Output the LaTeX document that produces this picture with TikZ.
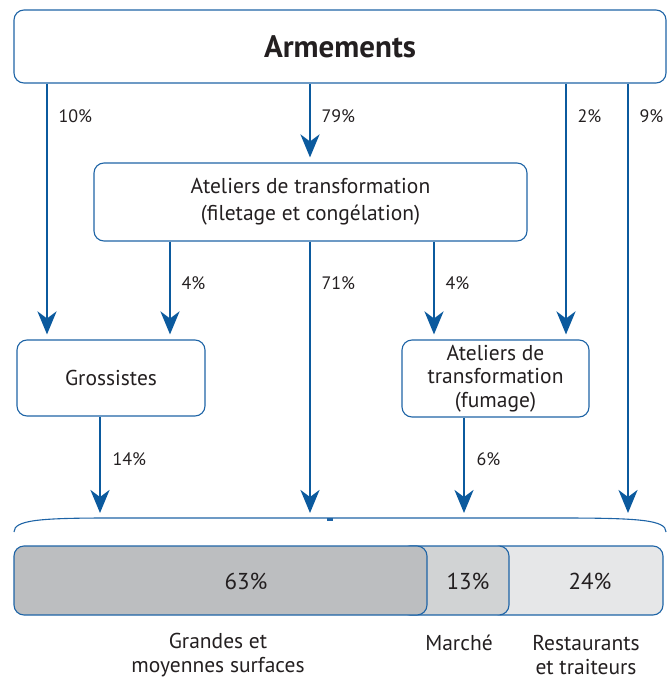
\documentclass[tikz,border=0pt]{standalone}
\usepackage{fontspec}
\setmainfont{PT Sans}
\usepackage{xcolor}
\usetikzlibrary{arrows.meta}

\definecolor{flowblue}{HTML}{0B5A9E}
\definecolor{lineblue}{HTML}{1E64A6}
\definecolor{txt}{HTML}{231F20}
\definecolor{grayA}{HTML}{BCBEC0}
\definecolor{grayB}{HTML}{D1D3D4}
\definecolor{grayC}{HTML}{E6E7E8}

\begin{document}
\begin{tikzpicture}[x=1pt, y=-1pt,
    box/.style={draw=lineblue, line width=1.1pt, rounded corners=10pt, text=txt,
        align=center, inner sep=0pt, font=\fontsize{21.5}{27}\selectfont},
    flow/.style={draw=flowblue, line width=2.6pt, shorten >=5pt,
        -{Stealth[length=23pt, width=19pt, inset=7pt]}},
    pct/.style={anchor=west, text=txt, font=\fontsize{18}{21}\selectfont},
    segbox/.style={draw=lineblue, line width=1.1pt, rounded corners=10pt},
    seglabel/.style={text=txt, font=\fontsize{23}{27}\selectfont},
    outlabel/.style={text=txt, align=center, font=\fontsize{21.5}{24}\selectfont}]
        \useasboundingbox (0,0) rectangle (669,682);

        % Boxes
        \node[box, minimum width=652, minimum height=73, font=\fontsize{31}{36}\selectfont\bfseries]
            (arm) at (340,46.5) {Armements};
        \node[box, minimum width=433, minimum height=78]
            (ate) at (310.5,202) {Ateliers de transformation\\(filetage et congélation)};
        \node[box, minimum width=188, minimum height=76]
            (gro) at (111,378) {Grossistes};
        \node[box, minimum width=187, minimum height=77, font=\fontsize{21.5}{23.5}\selectfont]
            (fum) at (495.5,378.5) {Ateliers de\\transformation\\(fumage)};

        % Brace over the market
        \coordinate (mkt) at (0,518);
        \draw[lineblue, line width=1.1pt] (14,532) .. controls (14,520) and (40,518) .. (110,518)
            -- (560,518) .. controls (640,518) and (666,520) .. (666,532);
        \fill[lineblue] (327,517.5) rectangle (333,520.5);

        % Flows from Armements
        \draw[flow] (arm.south -| 47,0) -- (gro.north -| 47,0);
        \draw[flow] (arm.south -| 310,0) -- (ate.north -| 310,0);
        \draw[flow] (arm.south -| 566,0) -- (fum.north -| 566,0);
        \draw[flow] (arm.south -| 628,0) -- (mkt -| 628,0);
        \node[pct] (p10) at (55,116) {10\%};
        \node[pct] (p79) at (318,116) {79\%};
        \node[pct] (p2) at (574,116) {2\%};
        \node[pct] (p9) at (636,116) {9\%};

        % Flows from Ateliers de transformation
        \draw[flow] (ate.south -| 170,0) -- (gro.north -| 170,0);
        \draw[flow] (ate.south -| 310,0) -- (mkt -| 310,0);
        \draw[flow] (ate.south -| 434,0) -- (fum.north -| 434,0);
        \node[pct] (p4a) at (178,283) {4\%};
        \node[pct] (p71) at (318,283) {71\%};
        \node[pct] (p4b) at (442,283) {4\%};

        % Flows to the market
        \draw[flow] (gro.south -| 100,0) -- (mkt -| 100,0);
        \draw[flow] (fum.south -| 464,0) -- (mkt -| 464,0);
        \node[pct] (p14) at (109,459) {14\%};
        \node[pct] (p6) at (473,459) {6\%};

        % Market shares
        \draw[segbox, fill=grayC] (490,546) rectangle (663,615);
        \draw[segbox, fill=grayB] (400,546) rectangle (509,615);
        \draw[segbox, fill=grayA] (14,546) rectangle (427,615);
        \node[seglabel] (s63) at (246,581) {63\%};
        \node[seglabel] (s13) at (468,581) {13\%};
        \node[seglabel] (s24) at (590,581) {24\%};

        % Outlets
        \node[outlabel] (gms) at (218,655) {Grandes et\\moyennes surfaces};
        \node[outlabel] (mar) at (459,643) {Marché};
        \node[outlabel] (rest) at (586,655) {Restaurants\\et traiteurs};
    \end{tikzpicture}
\end{document}
